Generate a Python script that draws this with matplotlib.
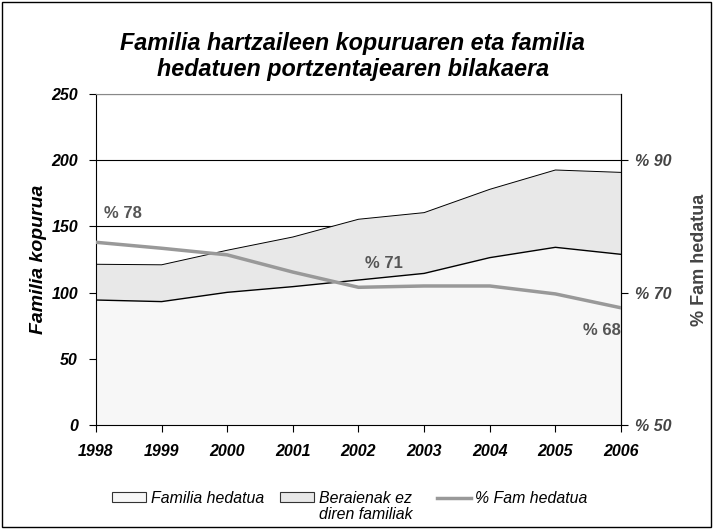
import matplotlib
matplotlib.use("Agg")
import matplotlib.pyplot as plt
from matplotlib.patches import Rectangle

plt.rcParams['font.family'] = ['Liberation Sans', 'DejaVu Sans']

# data
years = [1998, 1999, 2000, 2001, 2002, 2003, 2004, 2005, 2006]
hedatua = [94.4, 93.2, 100.2, 104.5, 109.5, 114.5, 126.4, 134.2, 128.9]
guztira = [121.4, 121.0, 132.0, 142.0, 155.4, 160.4, 178.0, 192.6, 190.8]
pct_hedatua = [77.6, 76.7, 75.7, 73.1, 70.8, 71.0, 71.0, 69.8, 67.7]
pct_labels = {1998: "% 78", 2002: "% 71", 2006: "% 68"}

fig = plt.figure(figsize=(7.13, 5.29), dpi=100)
ax = fig.add_axes([0.1346, 0.1966, 0.7364, 0.6257])

ax.set_xlim(1998, 2006)
ax.set_ylim(0, 250)
ax.set_yticks(range(0, 251, 50))
ax.grid(axis='y', color='black', lw=0.8, zorder=0)
ax.set_axisbelow(True)

ax.fill_between(years, 0, hedatua, facecolor='#f7f7f7', edgecolor='none', zorder=1)
ax.fill_between(years, hedatua, guztira, facecolor='#e8e8e8', edgecolor='none', zorder=1)
ax.plot(years, hedatua, color='black', lw=1.0, zorder=2)
ax.plot(years, guztira, color='black', lw=0.7, zorder=2)

ax.spines['top'].set_color('#888888')

ax.set_xticks(years)
ax.set_xticklabels([str(y) for y in years], fontsize=11.5, fontweight='bold', style='italic')
ax.tick_params(axis='y', labelsize=11.5, length=5, pad=8)
for t in ax.get_yticklabels():
    t.set_fontweight('bold')
    t.set_fontstyle('italic')
ax.tick_params(axis='x', length=5, pad=9)
ax.set_ylabel("Familia kopurua", fontsize=14, fontweight='bold', style='italic', labelpad=3)

ax2 = ax.twinx()
ax2.set_ylim(50, 100)
ax2.set_yticks([50, 70, 90])
ax2.set_yticklabels(["% 50", "% 70", "% 90"], fontsize=11.5, fontweight='bold',
                    style='italic', color='#444444')
ax2.tick_params(axis='y', length=5, pad=5)
ax2.plot(years, pct_hedatua, color='#999999', lw=2.5, zorder=3)
ax2.set_ylabel("% Fam hedatua", fontsize=13, fontweight='bold', color='#444444', labelpad=14)
for s in ['top', 'left', 'bottom']:
    ax2.spines[s].set_visible(False)

label_pos = {1998: (1998.12, 81.9, 'left'), 2002: (2002.1, 74.4, 'left'),
             2006: (2006.0, 64.2, 'right')}
for y in years:
    if y in pct_labels:
        tx, ty, ha = label_pos[y]
        ax2.text(tx, ty, pct_labels[y], fontsize=12, fontweight='bold',
                 color='#555555', ha=ha, va='center')

fig.suptitle("Familia hartzaileen kopuruaren eta familia\nhedatuen portzentajearen bilakaera",
             x=0.495, y=0.94, fontsize=16.8, fontweight='bold', style='italic')

h1 = Rectangle((0, 0), 1, 1, facecolor='#f7f7f7', edgecolor='#333333', lw=0.8)
h2 = Rectangle((0, 0), 1, 1, facecolor='#e8e8e8', edgecolor='#333333', lw=0.8)
h3, = ax2.plot([], [], color='#999999', lw=2.5)
leg = fig.legend([h1, h2, h3], ["Familia hedatua", "Beraienak ez  ", "% Fam hedatua"],
                 loc='center', bbox_to_anchor=(0.491, 0.058), ncol=3, frameon=False,
                 prop={'size': 11.4, 'style': 'italic'}, handlelength=2.15, handleheight=0.6,
                 columnspacing=1.0, handletextpad=0.3)
fig.canvas.draw()
t2 = leg.get_texts()[1]
bb = t2.get_window_extent().transformed(fig.transFigure.inverted())
fig.text(bb.x0, bb.y0 - 0.002, "diren familiak", fontsize=11.4, style='italic',
         ha='left', va='top')

fig.patches.append(Rectangle((0.003, 0.003), 0.994, 0.994, transform=fig.transFigure,
                             fill=False, edgecolor='black', lw=1.0))

fig.savefig("out.png", dpi=100)
